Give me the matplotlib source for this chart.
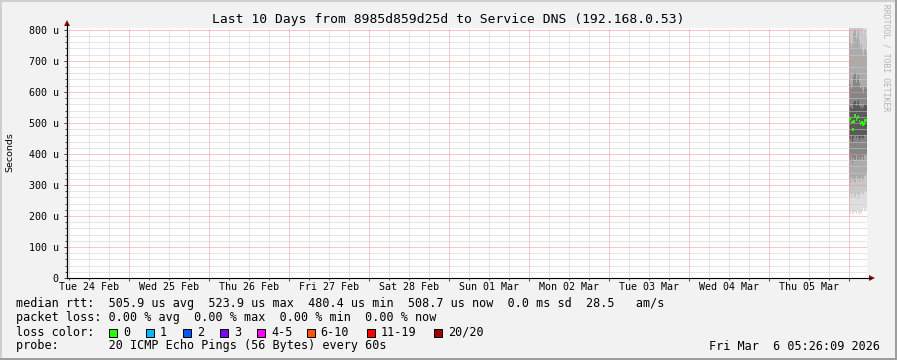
import datetime as dt

import matplotlib
matplotlib.use("Agg")
import matplotlib.pyplot as plt
import matplotlib.dates as mdates
from matplotlib.patches import Rectangle, Polygon
from matplotlib.lines import Line2D
from matplotlib.ticker import MultipleLocator, FuncFormatter

W, H = 897, 360
MONO = "DejaVu Sans Mono"

# ---- data ----
end_time = dt.datetime(2026, 3, 6, 5, 26, 9)
start_time = end_time - dt.timedelta(days=10)
first_sample = dt.datetime(2026, 3, 6, 0, 0)
step_min = 20

# median rtt per step, microseconds
median_us = [512, 515, 503, 479, 505, 524, 510, 518, 521, 506, 499, 502, 496, 497, 508, 509]

# smoke bands (pairs of sorted pings), outermost first, microseconds
lo1 = [210, 205, 215, 208, 203, 212, 206, 218, 209, 204, 214, 207, 220, 226, 215, 222]
hi1 = [1050, 1000, 980, 1020, 1100, 1150, 1040, 1080, 1120, 1000, 960, 950, 920, 880, 900, 870]
lo2 = [262, 270, 258, 275, 266, 260, 272, 268, 255, 264, 270, 278, 266, 272, 280, 276]
hi2 = [900, 880, 870, 890, 920, 950, 900, 910, 930, 880, 860, 850, 830, 790, 800, 780]
lo3 = [318, 305, 325, 312, 320, 308, 330, 315, 322, 310, 318, 326, 314, 320, 330, 335]
hi3 = [780, 760, 745, 755, 790, 800, 770, 785, 795, 765, 740, 750, 735, 720, 738, 730]
lo4 = [385, 378, 392, 370, 388, 380, 395, 384, 376, 390, 382, 388, 393, 380, 395, 398]
hi4 = [640, 625, 610, 618, 650, 660, 630, 645, 655, 628, 612, 620, 605, 598, 615, 610]
lo5 = [455, 448, 460, 440, 452, 458, 450, 462, 455, 445, 450, 456, 448, 452, 460, 458]
hi5 = [560, 552, 548, 545, 565, 572, 556, 568, 575, 555, 548, 552, 545, 550, 562, 558]
smoke_grays = ["#dedede", "#c8c8c8", "#ababab", "#868686", "#5a5a5a"]

loss_labels = ["0", "1", "2", "3", "4-5", "6-10", "11-19", "20/20"]
loss_colors = ["#26ff00", "#00b8ff", "#0059ff", "#7e00ff", "#ff00ff",
               "#ff5500", "#ff0000", "#a10000"]

rtt_line = ("median rtt:  505.9 us avg  523.9 us max  480.4 us min  "
            "508.7 us now  0.0 ms sd  28.5   am/s")
loss_line = "packet loss: 0.00 % avg  0.00 % max  0.00 % min  0.00 % now"
probe_line = "probe:       20 ICMP Echo Pings (56 Bytes) every 60s"
title = "Last 10 Days from 8985d859d25d to Service DNS (192.168.0.53)"
y_top = 806

# ---- layout helpers (pixel -> figure fraction, y from top) ----
def fx(x):
    return x / W


def fy(y):
    return 1 - y / H


fig = plt.figure(figsize=(W / 100, H / 100), dpi=100, facecolor="#f2f2f2")

# 3D-ish frame like rrdtool
fig.patches.append(Rectangle((0, fy(2)), 1, 2 / H, transform=fig.transFigure, color="#cfcfcf", lw=0))
fig.patches.append(Rectangle((0, 0), 2 / W, 1, transform=fig.transFigure, color="#cfcfcf", lw=0))
fig.patches.append(Rectangle((0, 0), 1, 2 / H, transform=fig.transFigure, color="#9e9e9e", lw=0))
fig.patches.append(Rectangle((1 - 2 / W, 0), 2 / W, 1, transform=fig.transFigure, color="#9e9e9e", lw=0))

ax = fig.add_axes([fx(67), fy(278), fx(800), 250 / H])
ax.set_facecolor("white")

# smoke, one column per step
times = [first_sample + dt.timedelta(minutes=step_min * i) for i in range(len(median_us))]
t_num = mdates.date2num(times)
step_days = step_min / (24 * 60)
bands = [(lo1, hi1), (lo2, hi2), (lo3, hi3), (lo4, hi4), (lo5, hi5)]
for (lo, hi), gray in zip(bands, smoke_grays):
    ax.bar(t_num, [h - l for l, h in zip(lo, hi)], bottom=lo, width=step_days,
           align="edge", color=gray, lw=0, antialiased=False, zorder=1)

# median markers
thick = 9
ax.bar(t_num, [thick] * len(median_us), bottom=[m - thick / 2 for m in median_us],
       width=step_days * 1.3, align="edge", color=loss_colors[0], lw=0, zorder=3)

ax.set_xlim(mdates.date2num(start_time), mdates.date2num(end_time))
ax.set_ylim(0, y_top)

# grid
ax.xaxis.set_major_locator(mdates.DayLocator())
ax.xaxis.set_minor_locator(mdates.HourLocator(byhour=[0, 6, 12, 18]))
ax.xaxis.set_major_formatter(FuncFormatter(lambda v, p: ""))
ax.yaxis.set_major_locator(MultipleLocator(100))
ax.yaxis.set_minor_locator(MultipleLocator(20))
ax.yaxis.set_major_formatter(FuncFormatter(lambda v, p: "0" if v == 0 else f"{int(v)} u"))
ax.set_axisbelow(False)
ax.grid(which="minor", color="#cdcdcd", ls=(0, (1, 1)), lw=0.72)
ax.grid(which="major", color="#f09090", ls=(0, (1, 1)), lw=0.72)

for side in ("top", "right"):
    ax.spines[side].set_visible(False)
for side in ("left", "bottom"):
    ax.spines[side].set_color("black")
    ax.spines[side].set_linewidth(0.8)

ax.tick_params(which="major", direction="out", length=2.5, width=0.72, color="#444444",
               labelsize=7.2, pad=3.5)
ax.tick_params(which="minor", direction="out", length=1.5, width=0.72, color="#444444")
for lab in ax.get_yticklabels():
    lab.set_fontfamily(MONO)

# day labels at noon
day = dt.datetime(start_time.year, start_time.month, start_time.day, 12)
while day < end_time:
    if day > start_time:
        ax.text(mdates.date2num(day), -9 / 250, day.strftime("%a %d %b"),
                transform=ax.get_xaxis_transform(), ha="center", va="center",
                fontsize=7.2, family=MONO)
    day += dt.timedelta(days=1)

# axis arrows
arrow_c = "#8b1010"
fig.lines.append(Line2D([fx(67), fx(67)], [fy(278), fy(24)], transform=fig.transFigure, color="black", lw=0.8))
fig.lines.append(Line2D([fx(867), fx(871)], [fy(278), fy(278)], transform=fig.transFigure, color="black", lw=0.8))
fig.patches.append(Polygon([(fx(64), fy(26)), (fx(70), fy(26)), (fx(67), fy(20))],
                           closed=True, transform=fig.transFigure, color=arrow_c, lw=0))
fig.patches.append(Polygon([(fx(869), fy(275)), (fx(869), fy(281)), (fx(875), fy(278))],
                           closed=True, transform=fig.transFigure, color=arrow_c, lw=0))

# texts
fig.text(fx(448), fy(19), title, ha="center", va="center", fontsize=9.4, family=MONO)
fig.text(fx(10), fy(152), "Seconds", rotation=90, ha="center", va="center",
         fontsize=6.8, family="DejaVu Sans")
fig.text(fx(886), fy(4), "RRDTOOL / TOBI OETIKER", rotation=270, ha="center", va="top",
         fontsize=5.8, family=MONO, color="#b4b4b4")

fs = 8.45
fig.text(fx(16), fy(304), rtt_line, ha="left", va="center", fontsize=fs, family=MONO)
fig.text(fx(16), fy(318), loss_line, ha="left", va="center", fontsize=fs, family=MONO)
fig.text(fx(16), fy(332), "loss color:", ha="left", va="center", fontsize=fs, family=MONO)
fig.text(fx(16), fy(346), probe_line, ha="left", va="center", fontsize=fs, family=MONO)
fig.text(fx(880), fy(346), "Fri Mar  6 05:26:09 2026", ha="right", va="center",
         fontsize=fs, family=MONO)

swatch_x = [109, 145.7, 182.7, 219.7, 257, 306.7, 366.7, 434]
for sx, lab, col in zip(swatch_x, loss_labels, loss_colors):
    fig.patches.append(Rectangle((fx(sx), fy(336.5)), 8 / W, 8 / H, transform=fig.transFigure,
                                 facecolor=col, edgecolor="black", lw=0.72))
    fig.text(fx(sx + 14), fy(332), lab, ha="left", va="center", fontsize=fs, family=MONO)

fig.savefig("out.png", dpi=100, facecolor=fig.get_facecolor())
